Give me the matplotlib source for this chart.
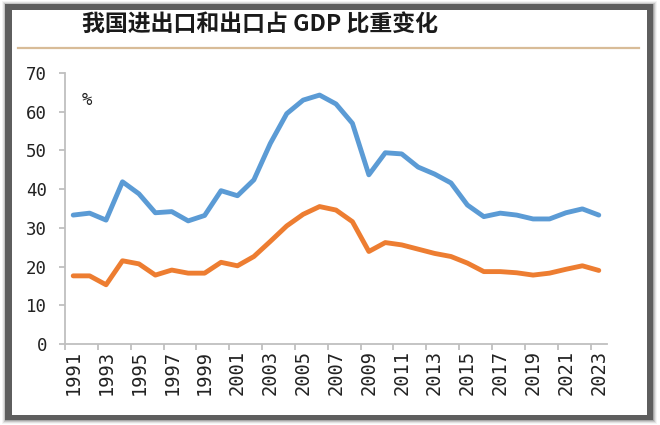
import matplotlib
matplotlib.use("Agg")
import matplotlib.pyplot as plt
from matplotlib.patches import Rectangle

# datos (% del PIB)
years = list(range(1991, 2024))
trade = [33.3, 33.8, 32.0, 41.9, 38.8, 33.9, 34.2, 31.8, 33.2, 39.6, 38.3,
         42.4, 51.8, 59.5, 63.0, 64.3, 62.0, 57.0, 43.7, 49.4, 49.1, 45.7,
         43.9, 41.6, 35.9, 32.9, 33.8, 33.3, 32.3, 32.3, 33.9, 34.9, 33.3]
exports = [17.6, 17.6, 15.3, 21.5, 20.7, 17.8, 19.1, 18.3, 18.3, 21.1, 20.2,
           22.6, 26.5, 30.5, 33.5, 35.5, 34.6, 31.6, 23.9, 26.2, 25.6, 24.5,
           23.4, 22.6, 20.9, 18.7, 18.7, 18.4, 17.8, 18.3, 19.3, 20.2, 19.0]
title = "我国进出口和出口占 GDP 比重变化"

W, H = 660, 425
fig = plt.figure(figsize=(6.6, 4.25), dpi=100)

def px(x0, y0, x1, y1):
    # rectangulo en pixeles (origen arriba a la izquierda) -> fraccion de figura
    return (x0 / W, 1 - y1 / H), (x1 - x0) / W, (y1 - y0) / H

# marco con sombra
for d, a in [(4, 0.08), (3, 0.15), (2, 0.25), (1, 0.40)]:
    xy, w, h = px(5 - d + 1, 4 - d + 1, 653 + d, 420 + d)
    fig.patches.append(Rectangle(xy, w, h, transform=fig.transFigure,
                                 color="#777777", alpha=a, lw=0, zorder=-5))
xy, w, h = px(5, 4, 653, 420)
fig.patches.append(Rectangle(xy, w, h, transform=fig.transFigure,
                             color="#5e5e5e", lw=0, zorder=-4))
xy, w, h = px(12, 10, 647, 415)
fig.patches.append(Rectangle(xy, w, h, transform=fig.transFigure,
                             color="white", lw=0, zorder=-3))

# titulo y linea
fig.text(82 / W, 1 - 25 / H, title, fontsize=16.5, va="center", ha="left",
         weight="bold", family=["Noto Sans CJK SC", "DejaVu Sans"], color="#1a1a1a")
fig.add_artist(plt.Line2D([18 / W, 639 / W], [1 - 47.5 / H, 1 - 47.5 / H],
                          transform=fig.transFigure, color="#D8BC98", lw=1.6))

ax = fig.add_axes([65 / W, 1 - 344 / H, (607 - 65) / W, (344 - 73) / H])
ax.set_facecolor("none")
x = list(range(len(years)))
ax.plot(x, trade, color="#5B9BD5", lw=3.5, solid_capstyle="round", solid_joinstyle="round")
ax.plot(x, exports, color="#ED7D31", lw=3.5, solid_capstyle="round", solid_joinstyle="round")

ax.set_xlim(-0.5, len(years) - 0.5)
ax.set_ylim(0, 70)
for s in ["top", "right"]:
    ax.spines[s].set_visible(False)
for s in ["left", "bottom"]:
    ax.spines[s].set_color("#BFBFBF")
    ax.spines[s].set_linewidth(1.3)

mono = "DejaVu Sans Mono"
ax.set_yticks(range(0, 71, 10))
ax.tick_params(axis="y", length=4, width=1.3, color="#BFBFBF", pad=9,
               labelsize=12.5, labelcolor="#222222")
for t in ax.get_yticklabels():
    t.set_family(mono)

ax.set_xticks([i - 0.5 for i in range(0, 33, 2)])
ax.set_xticklabels([])
ax.tick_params(axis="x", which="major", length=4, width=1.3, color="#BFBFBF")
ax.set_xticks(range(0, 33, 2), minor=True)
ax.set_xticklabels([str(years[i]) for i in range(0, 33, 2)], minor=True,
                   rotation=90, family=mono, fontsize=13.5, color="#222222")
ax.tick_params(axis="x", which="minor", length=0, pad=4)

ax.text(0.03, 0.9, "%", transform=ax.transAxes, fontsize=12.5, family=mono,
        color="#222222", va="center", ha="left")

fig.savefig("out.png", dpi=100)
